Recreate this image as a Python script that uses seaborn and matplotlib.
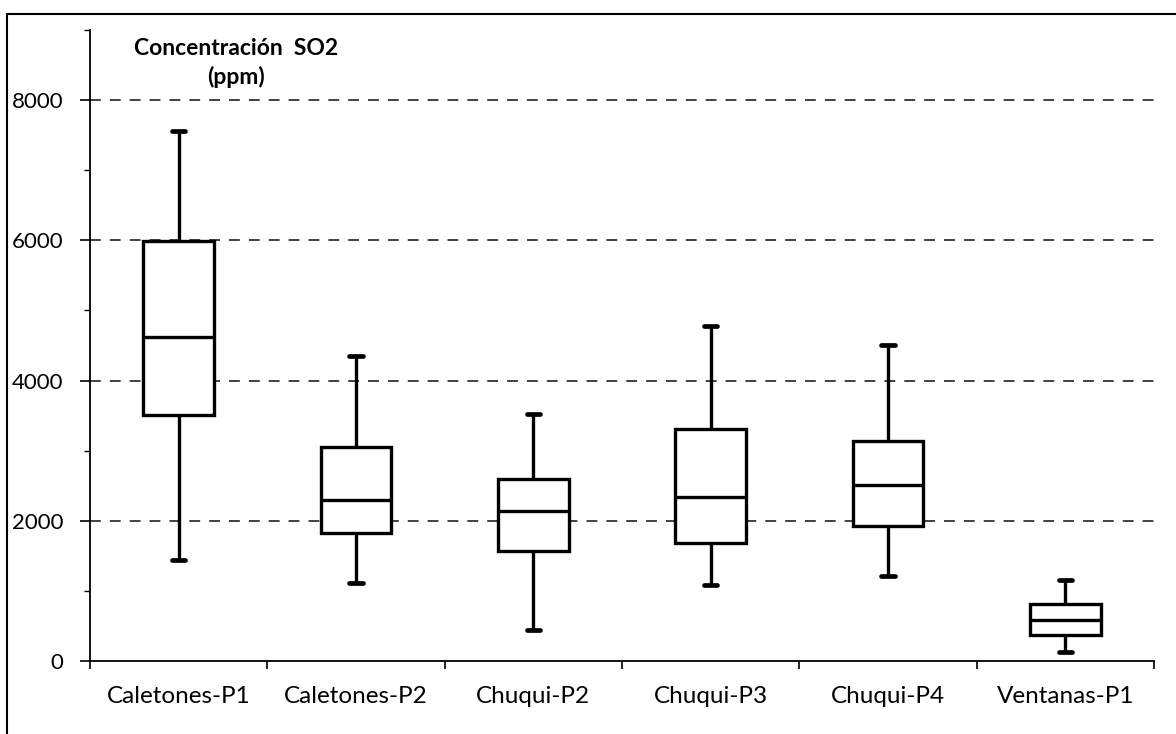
import numpy as np
import pandas as pd
import matplotlib
matplotlib.use("Agg")
import matplotlib.pyplot as plt
from matplotlib.lines import Line2D
from matplotlib.ticker import MultipleLocator
import seaborn as sns

# Five-number summaries (min, Q1, median, Q3, max), ppm
sites = ["Caletones-P1", "Caletones-P2", "Chuqui-P2", "Chuqui-P3", "Chuqui-P4", "Ventanas-P1"]
mins = [1440, 1110, 440, 1080, 1215, 135]
q1s = [3505, 1820, 1565, 1680, 1925, 375]
medians = [4615, 2300, 2145, 2340, 2505, 585]
q3s = [5985, 3050, 2595, 3305, 3140, 820]
maxs = [7555, 4355, 3525, 4785, 4510, 1155]

y_label = "Concentración  SO2\n(ppm)"

rows = []
for s, a, b, c, d, e in zip(sites, mins, q1s, medians, q3s, maxs):
    for v in (a, b, c, d, e):
        rows.append({"site": s, "value": v})
df = pd.DataFrame(rows)

sns.set_theme(style="white")
plt.rcParams["font.family"] = ["Lato", "DejaVu Sans"]

fig = plt.figure(figsize=(11.76, 7.34), dpi=100)
ax = fig.add_axes([90 / 1176, 1 - 661 / 734, (1154 - 90) / 1176, (661 - 30) / 734])

lw = 2.4
sns.boxplot(data=df, x="site", y="value", order=sites, whis=(0, 100), width=0.4,
            color="white", linecolor="black", linewidth=lw, ax=ax,
            capwidths=0.075,
            capprops=dict(linewidth=3.4), zorder=3)

ax.set_ylim(0, 9000)
ax.set_xlim(-0.5, len(sites) - 0.5)
ax.yaxis.set_major_locator(MultipleLocator(2000))
ax.yaxis.set_minor_locator(MultipleLocator(1000))
ax.set_xticks(np.arange(len(sites)))
ax.set_xticklabels(sites)
ax.set_xticks(np.arange(len(sites) + 1) - 0.5, minor=True)

ax.grid(False)
for yv in [2000, 4000, 6000, 8000]:
    ax.axhline(yv, color="#333333", lw=1.3, ls=(0, (6, 5)), zorder=1)

for sp in ["top", "right"]:
    ax.spines[sp].set_visible(False)
ax.spines["left"].set_color("black")
ax.spines["left"].set_linewidth(1.3)
ax.spines["bottom"].set_color("black")
ax.spines["bottom"].set_linewidth(1.3)

ax.tick_params(axis="y", which="major", left=True, length=7, width=1.2, color="black",
               labelsize=16, labelcolor="black", pad=12)
ax.tick_params(axis="y", which="minor", left=True, length=4, width=1.0, color="black")
ax.tick_params(axis="x", which="major", bottom=False, labelsize=17.5, labelcolor="black", pad=12)
ax.tick_params(axis="x", which="minor", bottom=True, length=6, width=1.2, color="black")

ax.set_xlabel("")
ax.set_ylabel("")

ax.text(0.137, 0.988, y_label, transform=ax.transAxes, ha="center", va="top",
        fontsize=16.5, fontweight="bold", color="black", linespacing=1.4)

# Figure frame (left and top edges visible in the reference)
fig.add_artist(Line2D([7 / 1176, 7 / 1176], [0, 1 - 14 / 734], transform=fig.transFigure,
                      color="black", lw=1.5))
fig.add_artist(Line2D([7 / 1176, 1], [1 - 14 / 734, 1 - 14 / 734], transform=fig.transFigure,
                      color="black", lw=1.5))

fig.savefig("out.png", dpi=100)
